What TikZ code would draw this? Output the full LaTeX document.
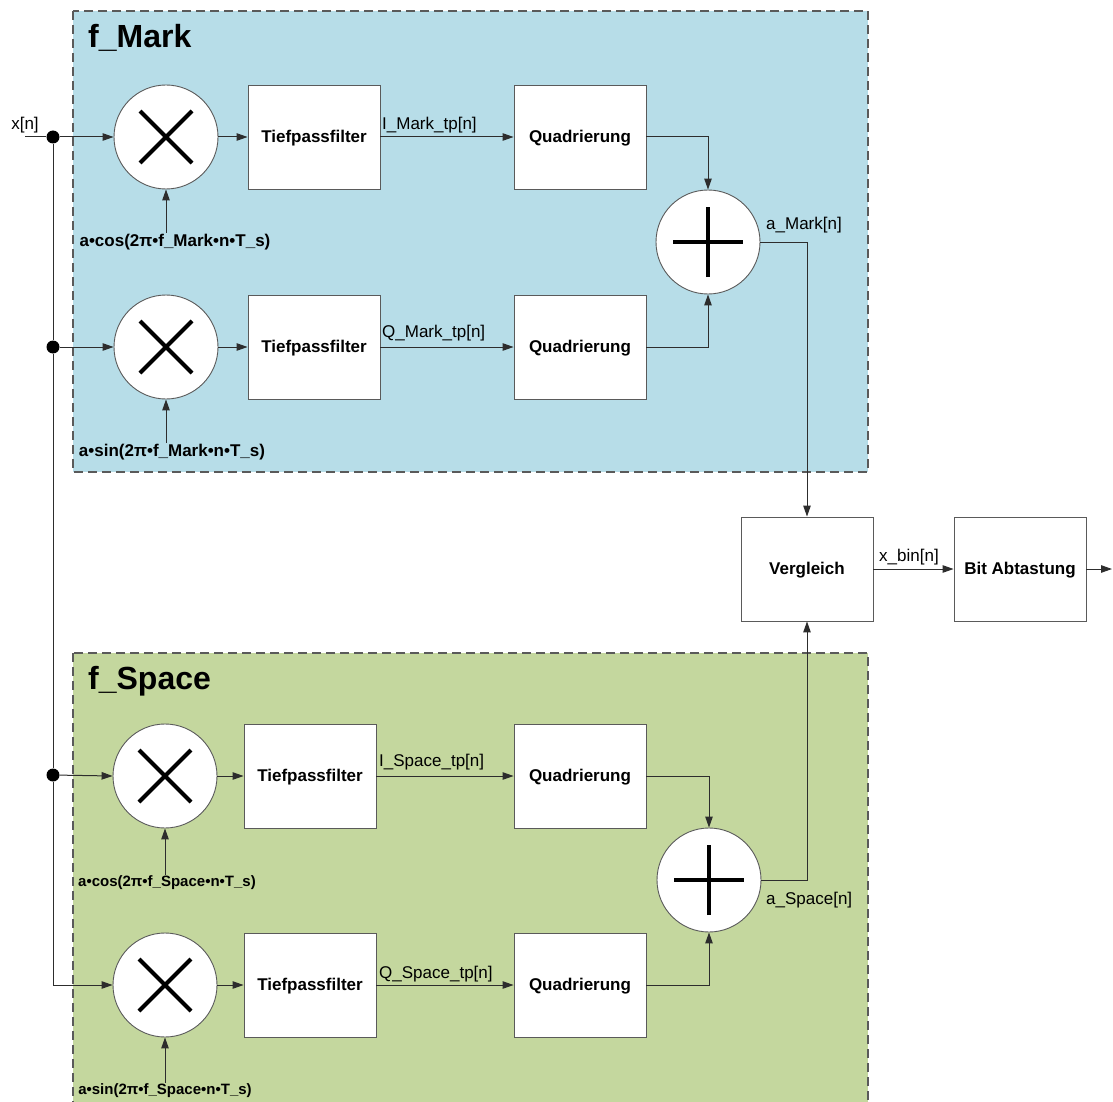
\documentclass[tikz,border=0pt]{standalone}
\usepackage{fontspec}
\setmainfont{Liberation Sans}
\usetikzlibrary{arrows.meta,calc}

\definecolor{markfill}{RGB}{183,221,232}
\definecolor{spacefill}{RGB}{196,215,158}
\definecolor{wire}{RGB}{45,45,45}
\definecolor{frame}{RGB}{90,90,90}

\tikzset{
  blockbox/.style={draw=frame, line width=0.9pt, fill=white, minimum width=132pt,
    minimum height=104pt, inner sep=0pt, text height=12pt, text depth=0.5pt,
    font=\fontsize{17}{20}\selectfont\bfseries},
  opcircle/.style={circle, draw=frame, line width=0.9pt, fill=white,
    minimum size=104pt, inner sep=0pt},
  mulnode/.style={opcircle, path picture={
    \draw[line width=4pt, black]
      ([shift={(-26pt,-26pt)}]path picture bounding box.center) --
      ([shift={(26pt,26pt)}]path picture bounding box.center)
      ([shift={(-26pt,26pt)}]path picture bounding box.center) --
      ([shift={(26pt,-26pt)}]path picture bounding box.center);}},
  sumnode/.style={opcircle, path picture={
    \draw[line width=4pt, black]
      ([shift={(-35pt,0pt)}]path picture bounding box.center) --
      ([shift={(35pt,0pt)}]path picture bounding box.center)
      ([shift={(0pt,-35pt)}]path picture bounding box.center) --
      ([shift={(0pt,35pt)}]path picture bounding box.center);}},
  wireline/.style={draw=wire, line width=1pt},
  arr/.style={wireline, -{Triangle[length=11pt,width=7.5pt]}},
  junction/.style={circle, fill=black, minimum size=13pt, inner sep=0pt},
  siglabel/.style={anchor=west, inner sep=1pt, font=\fontsize{17}{20}\selectfont},
  carrierM/.style={inner sep=1pt, font=\fontsize{17}{20}\selectfont\bfseries},
  carrierS/.style={inner sep=1pt, font=\fontsize{15}{18}\selectfont\bfseries},
  grouptitle/.style={anchor=west, inner sep=0pt, font=\fontsize{32}{36}\selectfont\bfseries},
  groupframe/.style={draw=frame, line width=1.2pt, dash pattern=on 9pt off 5pt},
}

\begin{document}
\begin{tikzpicture}[x=1pt, y=-1pt]
\useasboundingbox (0,0) rectangle (1113,1102);
\clip (0,0) rectangle (1113,1102);

% group backgrounds
\path[groupframe, fill=markfill] (73,11) rectangle (868,472);
\path[groupframe, fill=spacefill] (73,653) rectangle (868,1130);
\node[grouptitle] (tMark) at (88,38) {f\_Mark};
\node[grouptitle] (tSpace) at (88,681) {f\_Space};

% f_Mark branch
\node[mulnode] (mMI) at (166,137) {};
\node[mulnode] (mMQ) at (166,347) {};
\node[blockbox] (tpMI) at (314,137) {Tiefpassfilter};
\node[blockbox] (tpMQ) at (314,347) {Tiefpassfilter};
\node[blockbox] (qMI) at (580,137) {Quadrierung};
\node[blockbox] (qMQ) at (580,347) {Quadrierung};
\node[sumnode] (sM) at (708,242) {};
\node[carrierM] (cMI) at (175,242) {a•cos(2π•f\_Mark•n•T\_s)};
\node[carrierM] (cMQ) at (172,452) {a•sin(2π•f\_Mark•n•T\_s)};

% f_Space branch
\node[mulnode] (mSI) at (165,776) {};
\node[mulnode] (mSQ) at (165,985) {};
\node[blockbox] (tpSI) at (310,776) {Tiefpassfilter};
\node[blockbox] (tpSQ) at (310,985) {Tiefpassfilter};
\node[blockbox] (qSI) at (580,776) {Quadrierung};
\node[blockbox] (qSQ) at (580,985) {Quadrierung};
\node[sumnode] (sS) at (709,880) {};
\node[carrierS] (cSI) at (167,883) {a•cos(2π•f\_Space•n•T\_s)};
\node[carrierS] (cSQ) at (165,1091) {a•sin(2π•f\_Space•n•T\_s)};

% decision stage
\node[blockbox] (vgl) at (807,569) {Vergleich};
\node[blockbox] (bit) at (1020,569) {Bit Abtastung};

% input distribution
\coordinate (xin) at (25,137);
\node[anchor=south, inner sep=1pt, font=\fontsize{17}{20}\selectfont] (xlab) at (25,134) {x[n]};
\node[junction] (j1) at (53,137) {};
\node[junction] (j2) at (53,347) {};
\node[junction] (j3) at (53,775) {};
\coordinate (jc) at (53,985);
\draw[wireline] (xin) -- (j1);
\draw[wireline] (j1) -- (j2) -- (j3) -- (jc);
\draw[arr] (j1) -- (mMI.west);
\draw[arr] (j2) -- (mMQ.west);
\draw[arr] (j3) -- (mSI.west);
\draw[arr] (jc) -- (mSQ.west);

% carriers into the mixers
\draw[arr] (cMI.north -| mMI.south) -- (mMI.south);
\draw[arr] (cMQ.north -| mMQ.south) -- (mMQ.south);
\draw[arr] (cSI.north -| mSI.south) -- (mSI.south);
\draw[arr] (cSQ.north -| mSQ.south) -- (mSQ.south);

% mixer -> lowpass -> squaring
\draw[arr] (mMI.east) -- (tpMI.west);
\draw[arr] (mMQ.east) -- (tpMQ.west);
\draw[arr] (mSI.east) -- (tpSI.west);
\draw[arr] (mSQ.east) -- (tpSQ.west);
\draw[arr] (tpMI.east) -- (qMI.west);
\draw[arr] (tpMQ.east) -- (qMQ.west);
\draw[arr] (tpSI.east) -- (qSI.west);
\draw[arr] (tpSQ.east) -- (qSQ.west);
\node[siglabel] (lMI) at (381,125) {I\_Mark\_tp[n]};
\node[siglabel] (lMQ) at (381,333) {Q\_Mark\_tp[n]};
\node[siglabel] (lSI) at (378,762) {I\_Space\_tp[n]};
\node[siglabel] (lSQ) at (378,974) {Q\_Space\_tp[n]};

% squaring -> adders
\draw[arr] (qMI.east) -| (sM.north);
\draw[arr] (qMQ.east) -| (sM.south);
\draw[arr] (qSI.east) -| (sS.north);
\draw[arr] (qSQ.east) -| (sS.south);

% adders -> comparison
\draw[arr] (sM.east) -| (vgl.north);
\draw[arr] (sS.east) -| (vgl.south);
\node[siglabel] (laM) at (765,225) {a\_Mark[n]};
\node[siglabel] (laS) at (765,900) {a\_Space[n]};

% comparison -> bit sampling -> output
\draw[arr] (vgl.east) -- (bit.west);
\node[siglabel] (lbin) at (878,557) {x\_bin[n]};
\coordinate (xout) at (1112,569);
\draw[arr] (bit.east) -- (xout);
\end{tikzpicture}
\end{document}
